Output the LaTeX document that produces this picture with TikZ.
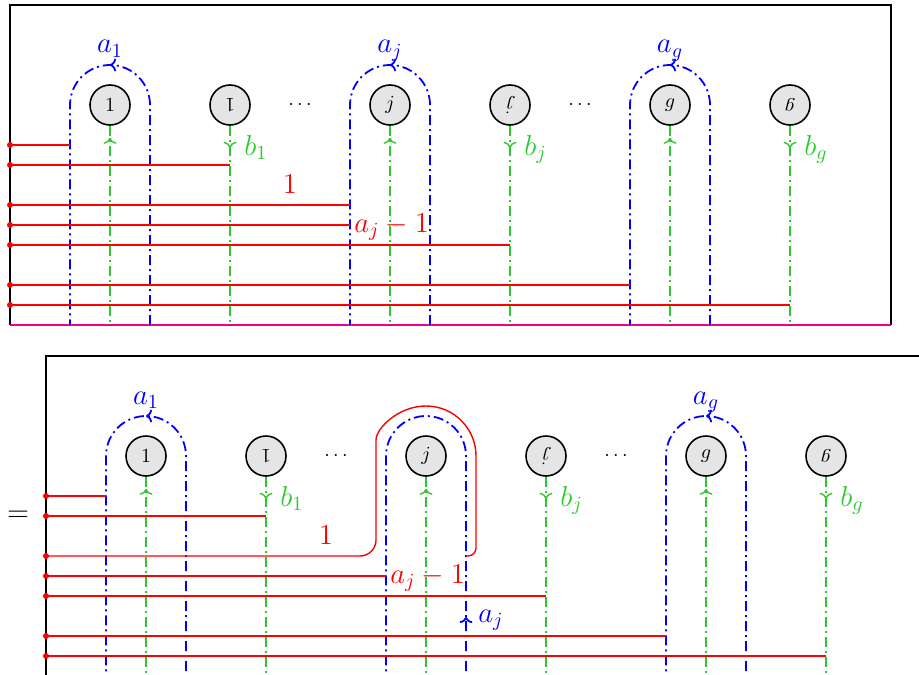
\documentclass[tikz,border=0pt]{standalone}
\usepackage{graphicx}
\usetikzlibrary{decorations.markings, arrows.meta}
\definecolor{grn}{RGB}{45,200,45}
\tikzset{
  vtx/.style={circle, draw, line width=0.8pt, fill=gray!20, minimum size=20pt, inner sep=0pt, font=\normalsize},
  bl/.style={blue, line width=0.9pt, dash pattern=on 5pt off 2pt on 1pt off 2pt},
  gr/.style={grn, line width=0.7pt, dash pattern=on 5pt off 2pt on 1pt off 2pt},
  rd/.style={red, line width=0.7pt},
  frame/.style={black, line width=1pt},
  lbl/.style={font=\Large, inner sep=0pt},
  rdot/.style={red},
  tipfwd/.tip={Computer Modern Rightarrow[length=3pt, width=6.5pt]},
  arrowfwd/.style={postaction={decorate}, decoration={markings, mark=at position #1 with {\arrow{tipfwd}}}},
  arrowbwd/.style={postaction={decorate}, decoration={markings, mark=at position #1 with {\arrow{tipfwd[reversed]}}}},
}
\begin{document}
\begin{tikzpicture}[x=0.5pt, y=0.5pt]
\useasboundingbox (0,0) rectangle (919,-674);
\clip (0,0) rectangle (919,-674);

% ================= top panel =================
\begin{scope}
  \draw[frame] (10,-325) -- (10,-5) -- (891,-5) -- (891,-325);
  \draw[magenta, line width=1pt] (10,-325) -- (891,-325);
  \node[vtx] (t1)  at (110,-105) {$1$};
  \node[vtx] (t1r) at (230,-105) {\rotatebox{180}{$1$}};
  \node (td1) at (300,-105) {$\cdots$};
  \node[vtx] (tj)  at (390,-105) {$j$};
  \node[vtx] (tjr) at (510,-105) {\rotatebox{180}{$j$}};
  \node (td2) at (580,-105) {$\cdots$};
  \node[vtx] (tg)  at (670,-105) {$g$};
  \node[vtx] (tgr) at (790,-105) {\rotatebox{180}{$g$}};
  % blue loops
  \foreach \x/\s in {110/1, 390/j, 670/g}{
    \draw[bl, arrowfwd=0.5] (\x+40,-325) -- (\x+40,-105) arc (0:180:40) -- (\x-40,-325);
    \node[lbl, blue, anchor=base] at (\x,-53) {$a_\s$};
  }
  % green lines
  \draw[gr, arrowbwd=9pt] (t1.south) -- (110,-325);
  \draw[gr, arrowbwd=9pt] (tj.south) -- (390,-325);
  \draw[gr, arrowbwd=9pt] (tg.south) -- (670,-325);
  \draw[gr, arrowfwd=11pt] (t1r.south) -- (230,-325);
  \draw[gr, arrowfwd=11pt] (tjr.south) -- (510,-325);
  \draw[gr, arrowfwd=11pt] (tgr.south) -- (790,-325);
  \node[lbl, grn, anchor=base west] at (244,-155) {$b_1$};
  \node[lbl, grn, anchor=base west] at (524,-155) {$b_j$};
  \node[lbl, grn, anchor=base west] at (804,-155) {$b_g$};
  % red lines
  \foreach \y/\e in {145/70, 165/230, 205/350, 225/350, 245/510, 285/630, 305/790}{
    \coordinate (tr\y) at (10,-\y);
    \draw[rd] (tr\y) -- (\e,-\y);
    \fill[rdot] (tr\y) circle[radius=1.5pt];
  }
  \node[lbl, red, anchor=base] at (290,-193) {$1$};
  \node[lbl, red, anchor=base west] at (354,-232) {$a_j-1$};
\end{scope}

% ================= equals =================
\node[font=\Large] (eq) at (18,-516) {$=$};

% ================= bottom panel =================
\begin{scope}[shift={(36,-351)}]
  \draw[frame] (10,-340) -- (10,-5) -- (950,-5);
  \node[vtx] (b1)  at (110,-105) {$1$};
  \node[vtx] (b1r) at (230,-105) {\rotatebox{180}{$1$}};
  \node (bd1) at (300,-105) {$\cdots$};
  \node[vtx] (bj)  at (390,-105) {$j$};
  \node[vtx] (bjr) at (510,-105) {\rotatebox{180}{$j$}};
  \node (bd2) at (580,-105) {$\cdots$};
  \node[vtx] (bg)  at (670,-105) {$g$};
  \node[vtx] (bgr) at (790,-105) {\rotatebox{180}{$g$}};
  % blue loops
  \foreach \x/\s in {110/1, 670/g}{
    \draw[bl, arrowfwd=0.5] (\x+40,-340) -- (\x+40,-105) arc (0:180:40) -- (\x-40,-340);
    \node[lbl, blue, anchor=base] at (\x,-53) {$a_\s$};
  }
  \draw[bl, arrowfwd=37pt] (430,-340) -- (430,-105) arc (0:180:40) -- (350,-340);
  \node[lbl, blue, anchor=base west] at (442,-271) {$a_j$};
  % green lines
  \draw[gr, arrowbwd=9pt] (b1.south) -- (110,-340);
  \draw[gr, arrowbwd=9pt] (bj.south) -- (390,-340);
  \draw[gr, arrowbwd=9pt] (bg.south) -- (670,-340);
  \draw[gr, arrowfwd=11pt] (b1r.south) -- (230,-340);
  \draw[gr, arrowfwd=11pt] (bjr.south) -- (510,-340);
  \draw[gr, arrowfwd=11pt] (bgr.south) -- (790,-340);
  \node[lbl, grn, anchor=base west] at (244,-155) {$b_1$};
  \node[lbl, grn, anchor=base west] at (524,-155) {$b_j$};
  \node[lbl, grn, anchor=base west] at (804,-155) {$b_g$};
  % red lines
  \foreach \y/\e in {145/70, 165/230, 225/350, 245/510, 285/630, 305/790}{
    \coordinate (br\y) at (10,-\y);
    \draw[rd] (br\y) -- (\e,-\y);
  }
  \coordinate (br205) at (10,-205);
  \draw[rd] (br205) [rounded corners=8pt] -- (340,-205) -- (340,-105) [sharp corners] arc (180:0:50) [rounded corners=4pt] -- (440,-205) -- (430,-205);
  \foreach \y in {145,165,205,225,245,285,305}{
    \fill[rdot] (br\y) circle[radius=1.5pt];
  }
  \node[lbl, red, anchor=base] at (290,-193) {$1$};
  \node[lbl, red, anchor=base west] at (354,-232) {$a_j-1$};
\end{scope}
\end{tikzpicture}
\end{document}
